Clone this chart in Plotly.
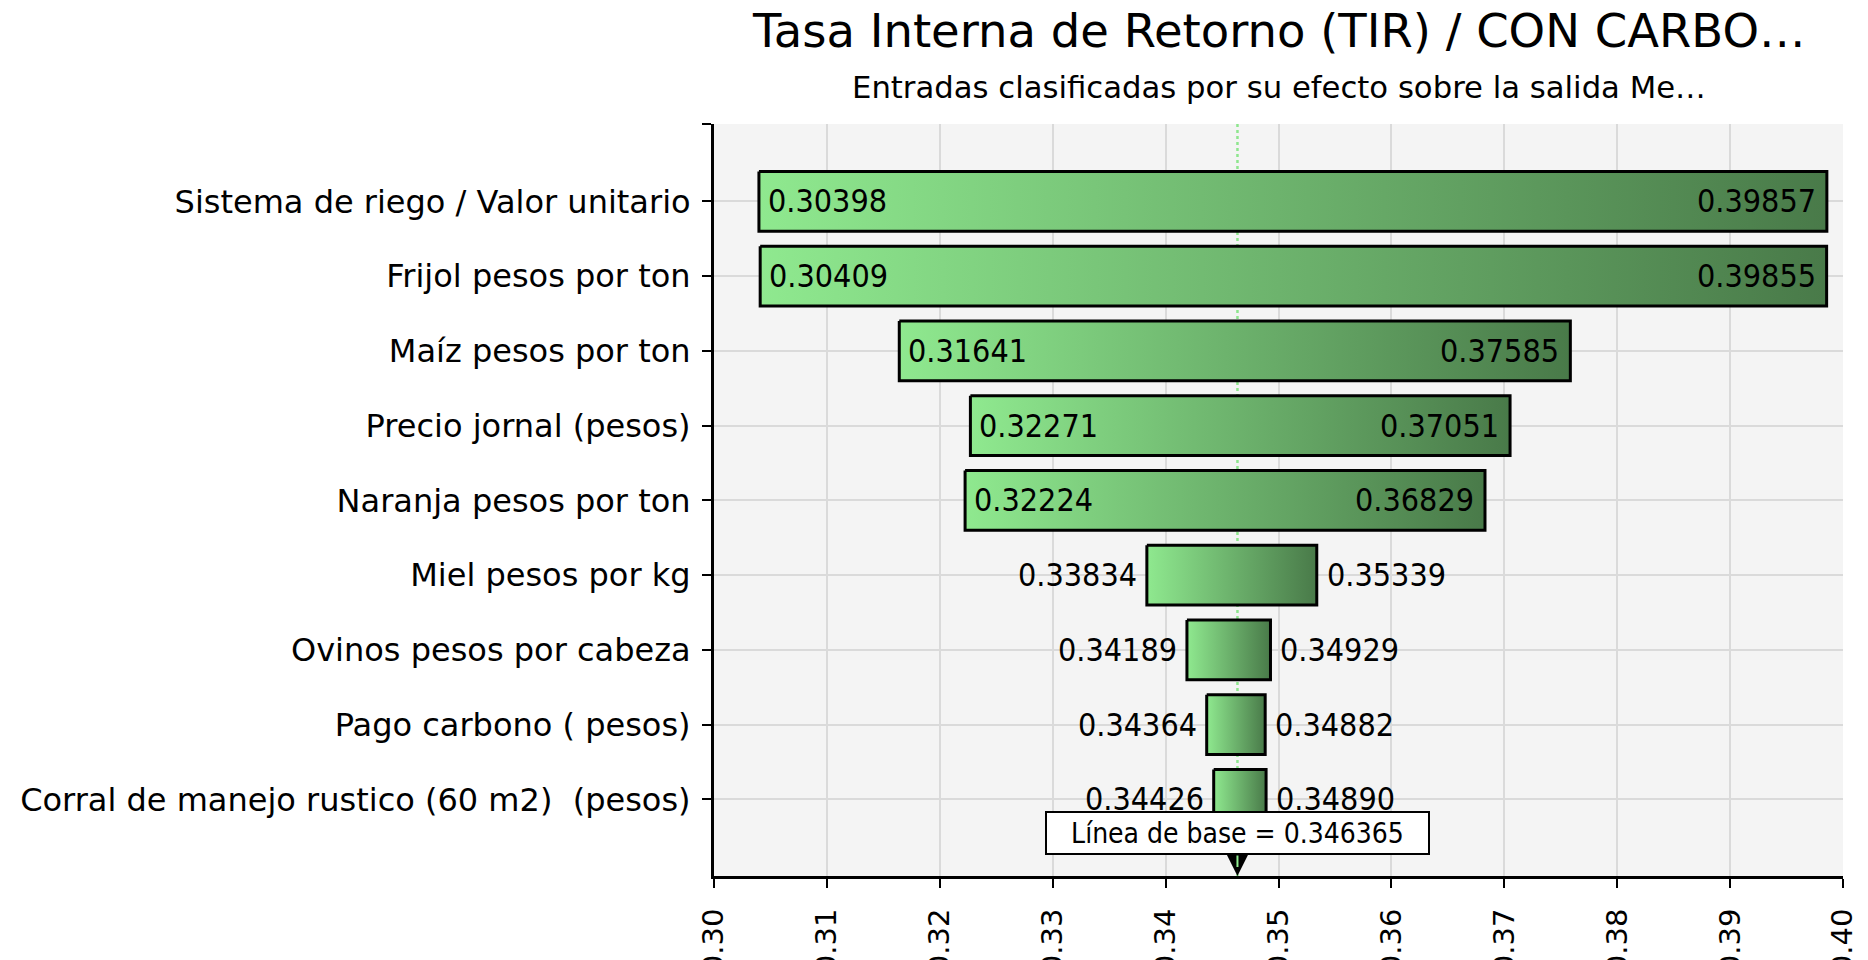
import plotly.graph_objects as go

categories = [
    "Sistema de riego / Valor unitario",
    "Frijol pesos por ton",
    "Maíz pesos por ton",
    "Precio jornal (pesos)",
    "Naranja pesos por ton",
    "Miel pesos por kg",
    "Ovinos pesos por cabeza",
    "Pago carbono ( pesos)",
    "Corral de manejo rustico (60 m2)\u00a0 (pesos)",
]
low_values = [0.30398, 0.30409, 0.31641, 0.32271, 0.32224, 0.33834, 0.34189, 0.34364, 0.34426]
high_values = [0.39857, 0.39855, 0.37585, 0.37051, 0.36829, 0.35339, 0.34929, 0.34882, 0.34890]
baseline = 0.346365
x_ticks = [0.30, 0.31, 0.32, 0.33, 0.34, 0.35, 0.36, 0.37, 0.38, 0.39, 0.40]

title_text = "Tasa Interna de Retorno (TIR) / CON CARBO\u2026"
subtitle_text = "Entradas clasificadas por su efecto sobre la salida Me\u2026"
baseline_text = "Línea de base = 0.346365"

FONT = "DejaVu Sans"
FONT_C = "DejaVu Sans Condensed, DejaVu Sans"
HALF = 0.4
Y_TOP = -1.034
Y_BOTTOM = 9.025

fig = go.Figure()

# baseline dotted line
fig.add_trace(go.Scatter(
    x=[baseline, baseline], y=[Y_TOP, Y_BOTTOM], mode="lines",
    line=dict(color="#8ee68e", width=2.5, dash="dot"),
    hoverinfo="skip", showlegend=False,
))

for i, (lo, hi) in enumerate(zip(low_values, high_values)):
    fig.add_trace(go.Scatter(
        x=[lo, hi, hi, lo, lo],
        y=[i - HALF, i - HALF, i + HALF, i + HALF, i - HALF],
        mode="lines", fill="toself",
        fillgradient=dict(type="horizontal",
                          colorscale=[[0, "#8fe98f"], [1, "#497a49"]]),
        line=dict(color="black", width=3),
        hoverinfo="skip", showlegend=False,
    ))

annotations = []
for i, (lo, hi) in enumerate(zip(low_values, high_values)):
    inside = (hi - lo) > 0.03
    annotations.append(dict(
        x=lo, y=i, xref="x", yref="y", text=f"{lo:.5f}", showarrow=False,
        xanchor="left" if inside else "right", xshift=7 if inside else -8,
        yanchor="middle", font=dict(family=FONT_C, size=32, color="black"),
    ))
    annotations.append(dict(
        x=hi, y=i, xref="x", yref="y", text=f"{hi:.5f}", showarrow=False,
        xanchor="right" if inside else "left", xshift=-9 if inside else 8,
        yanchor="middle", font=dict(family=FONT_C, size=32, color="black"),
    ))

# baseline label with arrow (dark outline + green core)
annotations.append(dict(
    x=baseline, y=0, xref="x", yref="paper", text=baseline_text,
    showarrow=True, ax=0, ay=-43, axref="pixel", ayref="pixel",
    arrowcolor="black", arrowwidth=5, arrowhead=2, arrowsize=0.9,
    bgcolor="white", bordercolor="black", borderwidth=2, borderpad=2,
    width=377, height=36, align="center",
    font=dict(family=FONT_C, size=28, color="black"),
))
annotations.append(dict(
    x=baseline, y=0, xref="x", yref="paper", text="",
    showarrow=True, ax=0, ay=-22, axref="pixel", ayref="pixel",
    arrowcolor="#90ee90", arrowwidth=2, arrowhead=0, standoff=9,
))

annotations.append(dict(
    x=0.5, y=(876 - 31) / 752, xref="paper", yref="paper", text=title_text,
    showarrow=False, xanchor="center", yanchor="middle",
    font=dict(family=FONT, size=46.5, color="black"),
))
annotations.append(dict(
    x=0.5, y=(876 - 87) / 752, xref="paper", yref="paper", text=subtitle_text,
    showarrow=False, xanchor="center", yanchor="middle",
    font=dict(family=FONT, size=30.7, color="black"),
))

y_tickvals = [Y_TOP] + list(range(len(categories)))
y_ticktext = [""] + categories

fig.update_layout(
    width=1868, height=960,
    margin=dict(l=706, r=33, t=116, b=92),
    paper_bgcolor="white", plot_bgcolor="#f4f4f4",
    showlegend=False,
    annotations=annotations,
    xaxis=dict(
        range=[x_ticks[0], x_ticks[-1]], tickvals=x_ticks,
        ticktext=[f"{v:.2f}" for v in x_ticks],
        tickangle=-90, ticks="outside", ticklen=9, tickwidth=2, tickcolor="black",
        showline=True, linecolor="black", linewidth=3, mirror=False,
        showgrid=True, gridcolor="#dadada", gridwidth=2, zeroline=False,
        tickfont=dict(family=FONT, size=29, color="black"),
        ticklabelstandoff=9, automargin=False,
    ),
    yaxis=dict(
        range=[Y_BOTTOM, Y_TOP], tickvals=y_tickvals,
        ticktext=y_ticktext,
        ticks="outside", ticklen=9, tickwidth=2, tickcolor="black",
        showline=True, linecolor="black", linewidth=3, mirror=False,
        showgrid=True, gridcolor="#dadada", gridwidth=2, zeroline=False,
        tickfont=dict(family=FONT, size=32, color="black"),
        ticklabelstandoff=5, automargin=False,
    ),
)

fig.write_html("out.html")
